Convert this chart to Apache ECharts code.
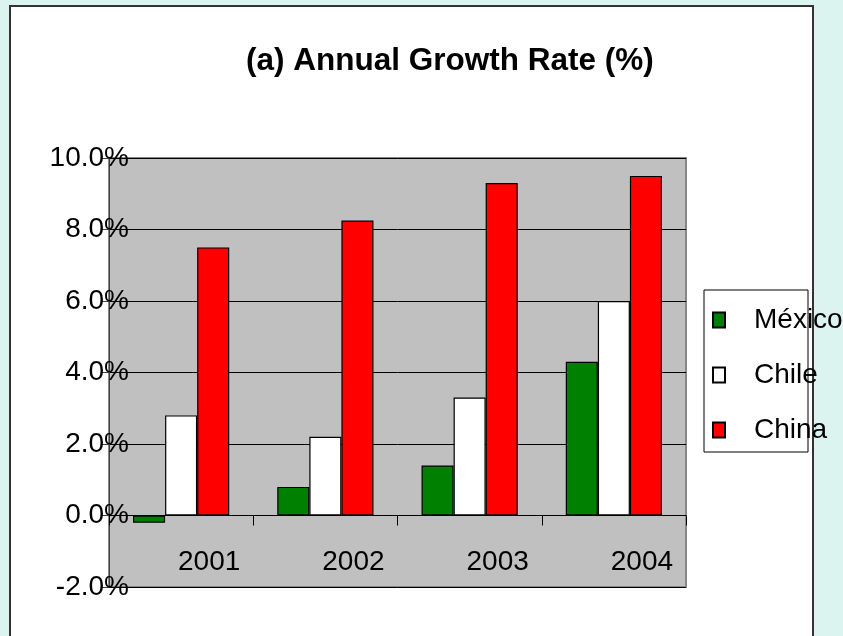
<!DOCTYPE html>
<html>
<head>
<meta charset="utf-8">
<script src="https://cdn.jsdelivr.net/npm/echarts@6/dist/echarts.min.js"></script>
<style>
  html, body { margin: 0; padding: 0; background: #dcf4ef; width: 843px; height: 636px; overflow: hidden; }
  #panel { position: absolute; left: 9px; top: 5px; width: 805px; height: 700px; box-sizing: border-box; border: 2px solid #333; background: #fff; }
  #chart { position: absolute; left: 0; top: 0; width: 843px; height: 636px; }
</style>
</head>
<body>
<div id="panel"></div>
<div id="chart"></div>
<script>
const categories = ['2001', '2002', '2003', '2004'];
const seriesNames = ['México', 'Chile', 'China'];
const mexico = [-0.2, 0.8, 1.4, 4.3];
const chile = [2.8, 2.2, 3.3, 6.0];
const china = [7.5, 8.25, 9.3, 9.5];
const titleText = '(a) Annual Growth Rate (%)';

const FONT = "'Liberation Sans', Arial, sans-serif";
const chart = echarts.init(document.getElementById('chart'), null, { renderer: 'canvas' });

const barStyle = (color) => ({ color: color, borderColor: '#000', borderWidth: 1.2 });

chart.setOption({
  backgroundColor: 'transparent',
  animation: false,
  title: {
    text: titleText,
    left: 246,
    top: 45,
    padding: 0,
    textStyle: { fontFamily: FONT, fontWeight: 'bold', fontSize: 31.5, color: '#000' }
  },
  graphic: [{
    type: 'rect', z: 1,
    shape: { x: 704, y: 290, width: 104, height: 162 },
    style: { fill: '#fff', stroke: '#000', lineWidth: 1 }
  }],
  legend: {
    orient: 'vertical',
    left: 712, top: 306,
    padding: 0,
    itemWidth: 12, itemHeight: 15,
    itemGap: 27,
    icon: 'rect',
    z: 5,
    textStyle: { fontFamily: FONT, fontSize: 28, color: '#000', padding: [0, 0, 0, 24] },
    data: seriesNames
  },
  grid: {
    left: 109, right: 157, top: 158, bottom: 49,
    outerBoundsMode: 'none',
    containLabel: false,
    show: true, backgroundColor: '#c0c0c0', borderColor: '#888', borderWidth: 2
  },
  xAxis: {
    type: 'category',
    data: categories,
    axisLine: { onZero: true, lineStyle: { color: '#000', width: 1 } },
    axisTick: { show: true, length: 10, lineStyle: { color: '#000' } },
    axisLabel: { fontFamily: FONT, fontSize: 28, color: '#000', margin: -39, padding: [0, 0, 0, 56] }
  },
  yAxis: {
    type: 'value',
    min: -2, max: 10, interval: 2,
    axisLine: { show: true, lineStyle: { color: '#404040', width: 1 } },
    axisTick: { show: true, length: 7, lineStyle: { color: '#404040' } },
    splitLine: { show: true, lineStyle: { color: '#000', width: 1 } },
    axisLabel: {
      fontFamily: FONT, fontSize: 28, color: '#000', margin: -20,
      formatter: (v) => v.toFixed(1) + '%'
    }
  },
  series: [
    { name: seriesNames[0], type: 'bar', data: mexico, itemStyle: barStyle('#008000'), barGap: '0%', barCategoryGap: '33.3%' },
    { name: seriesNames[1], type: 'bar', data: chile, itemStyle: barStyle('#ffffff'), barGap: '0%', barCategoryGap: '33.3%' },
    { name: seriesNames[2], type: 'bar', data: china, itemStyle: barStyle('#ff0000'), barGap: '0%', barCategoryGap: '33.3%' }
  ]
});
</script>
</body>
</html>
